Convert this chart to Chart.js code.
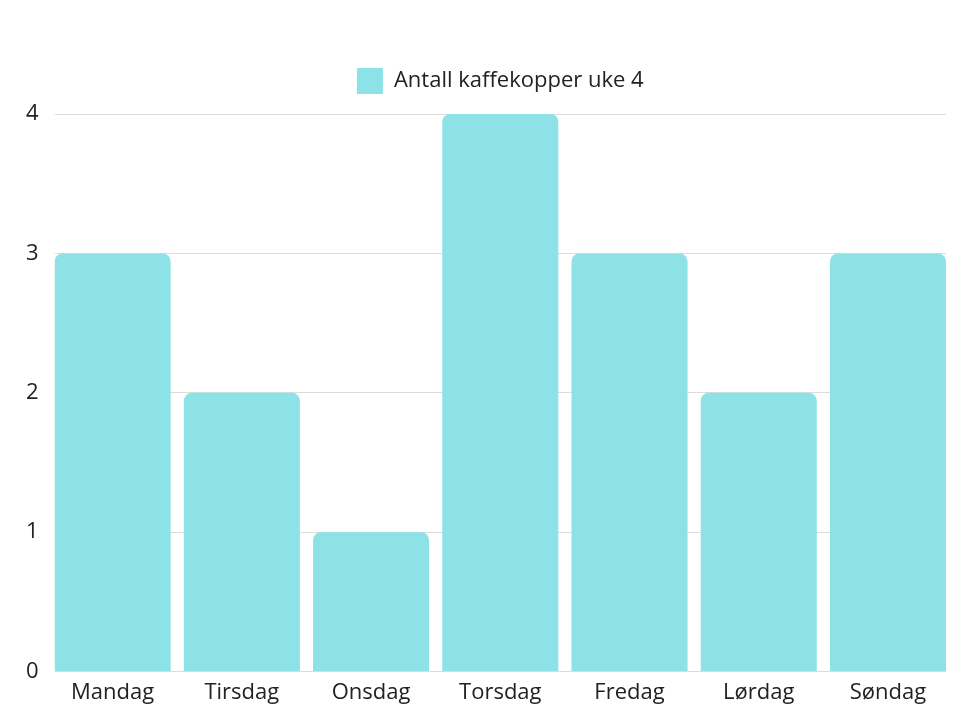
<!DOCTYPE html>
<html>
<head>
<meta charset="utf-8">
<script src="https://cdn.jsdelivr.net/npm/chart.js@4.4.1/dist/chart.umd.min.js"></script>
<style>
    html, body { margin: 0; padding: 0; background: #fff; }
    #wrap { width: 973px; height: 722px; }
</style>
</head>
<body>
<div id="wrap"><canvas id="kaffe_chart"></canvas></div>
<script>
const dager = ['Mandag', 'Tirsdag', 'Onsdag', 'Torsdag', 'Fredag', 'Lørdag', 'Søndag'];
const kopper = [3, 2, 1, 4, 3, 2, 3];
const y_ticks = [0, 1, 2, 3, 4];
const serie_navn = 'Antall kaffekopper uke 4';

Chart.defaults.font.family = '"Open Sans", sans-serif';
Chart.defaults.font.size = 22;
Chart.defaults.color = '#222';

const punkter = [];
for (let i = 0; i < kopper.length; i++){
    punkter.push({x: i, y: kopper[i]});
}

// litt ekstra luft under legenden
const legend_luft = {
    id: 'legend_luft',
    beforeInit: function(chart){
        const fit = chart.legend.fit;
        chart.legend.fit = function(){
            fit.call(this);
            this.height += 10;
        };
    }
};

const ctx = document.getElementById('kaffe_chart').getContext('2d');

const kaffe_chart = new Chart(ctx, {
    type: 'bar',
    data: {
        datasets: [{
            label: serie_navn,
            data: punkter,
            backgroundColor: 'rgb(140, 226, 230)',
            borderColor: 'rgb(140, 226, 230)',
            borderWidth: 0,
            borderRadius: 8,
            categoryPercentage: 1,
            barPercentage: 0.898
        }]
    },
    plugins: [legend_luft],
    options: {
        responsive: true,
        maintainAspectRatio: false,
        animation: false,
        layout: {
            padding: {top: 48, right: 27, bottom: 8, left: 10}
        },
        plugins: {
            legend: {
                fullSize: false,
                labels: {
                    boxWidth: 26,
                    boxHeight: 26,
                    padding: 20
                }
            },
            tooltip: {enabled: false}
        },
        scales: {
            x: {
                type: 'linear',
                offset: false,
                min: -0.449,
                max: dager.length - 1 + 0.449,
                grid: {display: false, drawTicks: false},
                border: {display: false},
                ticks: {
                    stepSize: 1,
                    includeBounds: false,
                    padding: 8,
                    maxRotation: 0,
                    autoSkip: false,
                    callback: function(value){
                        return Number.isInteger(value) ? dager[value] : '';
                    }
                }
            },
            y: {
                min: y_ticks[0],
                max: y_ticks[y_ticks.length - 1],
                grid: {color: '#dcdcdc', drawTicks: false},
                border: {display: false},
                ticks: {
                    stepSize: 1,
                    padding: 16
                }
            }
        }
    }
});
</script>
</body>
</html>
